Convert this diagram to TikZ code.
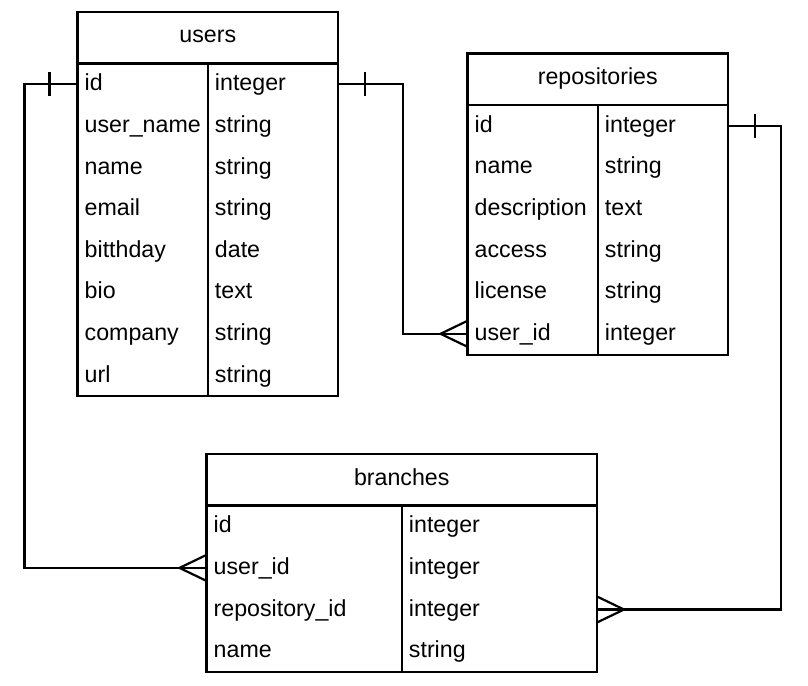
\documentclass[tikz,border=0pt]{standalone}
\usepackage{fontspec}
\setmainfont{Liberation Sans}
\usetikzlibrary{calc}

% ER table: #1 name, #2 x, #3 y (top), #4 width, #5 title, #6 field/type list, #7 row count
\newcommand\erdtable[7]{%
  \node[hdr, minimum width=#4, anchor=north west] (#1-head) at (#2,#3) {};
  \node[title, anchor=base] at ($(#1-head.north)+(0,31)$) {#5};
  \foreach \f/\t [count=\i] in {#6} {
    \node[rowbox, minimum width=#4, anchor=north west] (#1-\i)
      at ($(#1-head.south west)+(0,{(\i-1)*41.6})$) {};
    \node[cell] at ($(#1-\i.west)+(7,6.5)$) {\f};
    \node[cell] at ($(#1-\i.center)+(7,6.5)$) {\t};
  }
  \draw[frame] (#1-head.south west) rectangle (#1-#7.south east);
  \draw[frame] (#1-head.south) -- (#1-#7.south);
}

\tikzset{
  frame/.style={line width=2.2pt, draw=black},
  hdr/.style={frame, rectangle, minimum height=51.5pt, inner sep=0pt, outer sep=0pt},
  rowbox/.style={rectangle, minimum height=41.6pt, inner sep=0pt, outer sep=0pt},
  title/.style={inner sep=0pt, font=\fontsize{23.2}{27}\selectfont},
  cell/.style={inner sep=0pt, anchor=base west, font=\fontsize{23.2}{27}\selectfont},
  link/.style={line width=2.2pt, draw=black},
}

\begin{document}
\begin{tikzpicture}[x=1pt, y=-1pt]
\useasboundingbox (0,0) rectangle (808,685);

\erdtable{users}{77.5}{12}{260.5}{users}{%
  id/integer, user\_name/string, name/string, email/string,
  bitthday/date, bio/text, company/string, url/string}{8}

\erdtable{repos}{467.5}{53.5}{260.5}{repositories}{%
  id/integer, name/string, description/text, access/string,
  license/string, user\_id/integer}{6}

\erdtable{branches}{206.5}{454}{390.5}{branches}{%
  id/integer, user\_id/integer, repository\_id/integer, name/string}{4}

% users.id -> branches.user_id
\draw[link] (users-1.west) -- ++(-53,0) |- (branches-2.west);
\draw[link] ($(users-1.west)+(-28,-12)$) -- ++(0,24);
\draw[link] ($(branches-2.west)+(0,-13)$) -- ++(-27,13) -- ++(27,13);

% users.id -> repositories.user_id
\draw[link] (users-1.east) -- ++(65,0) |- (repos-6.west);
\draw[link] ($(users-1.east)+(27,-12)$) -- ++(0,24);
\draw[link] ($(repos-6.west)+(0,-13)$) -- ++(-27,13) -- ++(27,13);

% repositories.id -> branches.repository_id
\draw[link] (repos-1.east) -- ++(53,0) |- (branches-3.east);
\draw[link] ($(repos-1.east)+(27,-12)$) -- ++(0,24);
\draw[link] ($(branches-3.east)+(0,-13)$) -- ++(27,13) -- ++(-27,13);
\end{tikzpicture}
\end{document}
